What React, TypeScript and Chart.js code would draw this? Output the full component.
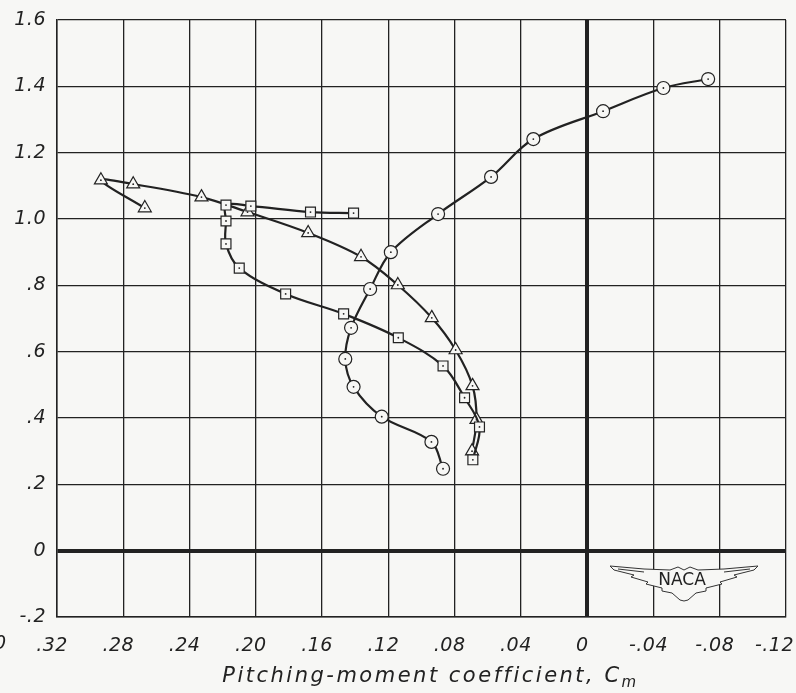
import React, { useEffect, useRef } from "react";
import { Chart, registerables } from "chart.js";

Chart.register(...registerables);

// Circle series (Cm, CL)
const circleCm = [0.087, 0.094, 0.124, 0.141, 0.146, 0.1425, 0.131, 0.1185, 0.09, 0.058, 0.0325, -0.0096, -0.046, -0.073];
const circleCL = [0.247, 0.328, 0.404, 0.494, 0.578, 0.672, 0.789, 0.9, 1.015, 1.127, 1.241, 1.325, 1.395, 1.422];

// Square series
const squareCm = [0.069, 0.065, 0.074, 0.087, 0.114, 0.147, 0.182, 0.21, 0.218, 0.218, 0.218, 0.203, 0.167, 0.141];
const squareCL = [0.274, 0.373, 0.461, 0.557, 0.642, 0.714, 0.774, 0.852, 0.925, 0.994, 1.042, 1.039, 1.021, 1.018];

// Triangle series
const triangleCm = [0.0695, 0.0668, 0.0692, 0.0794, 0.0938, 0.1143, 0.1365, 0.1684, 0.205, 0.2328, 0.274, 0.2935, 0.267];
const triangleCL = [0.3, 0.395, 0.497, 0.605, 0.702, 0.801, 0.886, 0.958, 1.021, 1.066, 1.105, 1.117, 1.033];

const xTickValues = [0.32, 0.28, 0.24, 0.2, 0.16, 0.12, 0.08, 0.04, 0, -0.04, -0.08, -0.12];
const xTickLabels = [".32", ".28", ".24", ".20", ".16", ".12", ".08", ".04", "0", "-.04", "-.08", "-.12\u00A0\u00A0"];
const yTickValues = [-0.2, 0, 0.2, 0.4, 0.6, 0.8, 1.0, 1.2, 1.4, 1.6];
const yTickLabels = ["-.2", "0", ".2", ".4", ".6", ".8", "1.0", "1.2", "1.4", "1.6"];

const xTitle = "Pitching-moment coefficient, C";
const xTitleSub = "m";

const BG = "#f7f7f5";
const INK = "#222222";
const FONT = "'DejaVu Sans', sans-serif";

const toPts = (xs: number[], ys: number[]) => xs.map((x, i) => ({ x, y: ys[i] }));

const lookup = (vals: number[], labels: string[]) => (value: any) => {
  const v = Number(value);
  const i = vals.findIndex((t) => Math.abs(t - v) < 1e-6);
  return i >= 0 ? labels[i] : "";
};

const spacingPlugin = {
  id: "spacing",
  beforeDraw(chart: any) {
    chart.ctx.letterSpacing = "0.5px";
  },
};

const decorPlugin = {
  id: "decor",
  afterDatasetsDraw(chart: any) {
    const ctx = chart.ctx;
    ctx.save();
    ctx.fillStyle = INK;
    chart.data.datasets.forEach((_d: any, di: number) => {
      const meta = chart.getDatasetMeta(di);
      meta.data.forEach((pt: any) => {
        ctx.beginPath();
        ctx.arc(pt.x, pt.y, 0.9, 0, Math.PI * 2);
        ctx.fill();
      });
    });
    ctx.restore();
  },
  afterDraw(chart: any) {
    const ctx = chart.ctx;
    const area = chart.chartArea;
    const xs = chart.scales.x;
    ctx.save();
    ctx.font = `oblique 19px ${FONT}`;
    ctx.fillStyle = INK;
    ctx.letterSpacing = "0.5px";
    ctx.textAlign = "center";
    ctx.textBaseline = "top";
    // clipped fragment of the next tick label at the far left
    ctx.fillText(".40", xs.getPixelForValue(0.36), area.bottom + 18);

    // axis title with subscript
    ctx.textAlign = "left";
    ctx.textBaseline = "alphabetic";
    ctx.letterSpacing = "2.5px";
    ctx.font = `oblique 21px ${FONT}`;
    const w1 = ctx.measureText(xTitle).width;
    ctx.font = `oblique 15px ${FONT}`;
    const w2 = ctx.measureText(xTitleSub).width;
    const cx = (area.left + area.right) / 2 + 9;
    const x0 = cx - (w1 + w2) / 2;
    const base = area.bottom + 65;
    ctx.font = `oblique 21px ${FONT}`;
    ctx.fillText(xTitle, x0, base);
    ctx.font = `oblique 15px ${FONT}`;
    ctx.fillText(xTitleSub, x0 + w1, base + 5);

    // NACA emblem
    const lx = area.right - 102;
    const ly = area.bottom - 39;
    const wing: number[][] = [
      [-74, -12], [-40, -9], [-14, -8], [-6, -11], [0, -8], [6, -11], [14, -8], [40, -9], [74, -12],
      [70, -8], [50, -3], [53, -1], [36, 4], [38, 6], [22, 10], [22, 13], [12, 15], [4, 22], [0, 23],
      [-4, 22], [-12, 15], [-22, 13], [-22, 10], [-38, 6], [-36, 4], [-53, -1], [-50, -3], [-70, -8],
    ];
    ctx.beginPath();
    wing.forEach(([px, py], i) => {
      if (i === 0) ctx.moveTo(lx + px, ly + py);
      else ctx.lineTo(lx + px, ly + py);
    });
    ctx.closePath();
    ctx.fillStyle = BG;
    ctx.fill();
    ctx.strokeStyle = "#333";
    ctx.lineWidth = 1;
    ctx.stroke();
    ctx.beginPath();
    ctx.moveTo(lx - 66, ly - 9);
    ctx.lineTo(lx - 40, ly - 6);
    ctx.moveTo(lx + 66, ly - 9);
    ctx.lineTo(lx + 40, ly - 6);
    ctx.stroke();
    ctx.font = `17px ${FONT}`;
    ctx.letterSpacing = "0px";
    ctx.textAlign = "center";
    ctx.textBaseline = "middle";
    ctx.fillStyle = INK;
    ctx.fillText("NACA", lx - 2, ly + 3);
    ctx.restore();
  },
};

export default function App() {
  const ref = useRef<HTMLCanvasElement | null>(null);

  useEffect(() => {
    document.body.style.margin = "0";
    document.body.style.background = BG;
    const canvas = ref.current;
    if (!canvas) return;

    const lineDs = (label: string, data: any[], style: string, radius: number) => ({
      label,
      data,
      showLine: true,
      tension: 0.35,
      borderColor: INK,
      borderWidth: 2.2,
      pointStyle: style,
      pointRadius: radius,
      pointBorderWidth: 1.2,
      pointBorderColor: INK,
      pointBackgroundColor: BG,
    });

    const gridWidth = (c: any) => (c.tick && Math.abs(c.tick.value) < 1e-9 ? 4 : 1.3);

    const chart = new Chart(canvas, {
      type: "scatter",
      data: {
        datasets: [
          lineDs("Circles", toPts(circleCm, circleCL), "circle", 6.5),
          lineDs("Squares", toPts(squareCm, squareCL), "rect", 7),
          lineDs("Triangles", toPts(triangleCm, triangleCL), "triangle", 7.5),
        ],
      },
      options: {
        animation: false,
        responsive: false,
        layout: { padding: { top: 20, right: 10, left: 0, bottom: 0 } },
        plugins: { legend: { display: false }, tooltip: { enabled: false } },
        scales: {
          x: {
            type: "linear",
            reverse: true,
            min: -0.12,
            max: 0.32,
            afterFit: (s: any) => {
              s.height = 76;
              s.paddingLeft = 0;
              s.paddingRight = 0;
            },
            ticks: {
              stepSize: 0.04,
              callback: lookup(xTickValues, xTickLabels),
              font: { family: FONT, size: 19, style: "oblique" },
              color: INK,
              padding: 18,
              labelOffset: -5,
              maxRotation: 0,
              autoSkip: false,
            },
            grid: { color: INK, lineWidth: gridWidth, drawTicks: false },
            border: { display: true, color: INK, width: 1.5 },
          },
          y: {
            type: "linear",
            min: -0.2,
            max: 1.6,
            afterFit: (s: any) => {
              s.width = 57;
              s.paddingTop = 0;
              s.paddingBottom = 0;
            },
            ticks: {
              stepSize: 0.2,
              callback: lookup(yTickValues, yTickLabels),
              font: { family: FONT, size: 19, style: "oblique" },
              color: INK,
              padding: 11,
              autoSkip: false,
            },
            grid: { color: INK, lineWidth: gridWidth, drawTicks: false },
            border: { display: true, color: INK, width: 1.5 },
          },
        },
      },
      plugins: [spacingPlugin, decorPlugin],
    } as any);

    return () => chart.destroy();
  }, []);

  return (
    <div style={{ position: "absolute", left: 0, top: 0, width: 796, height: 693, background: BG }}>
      <canvas ref={ref} width={796} height={693} style={{ display: "block" }} />
    </div>
  );
}
